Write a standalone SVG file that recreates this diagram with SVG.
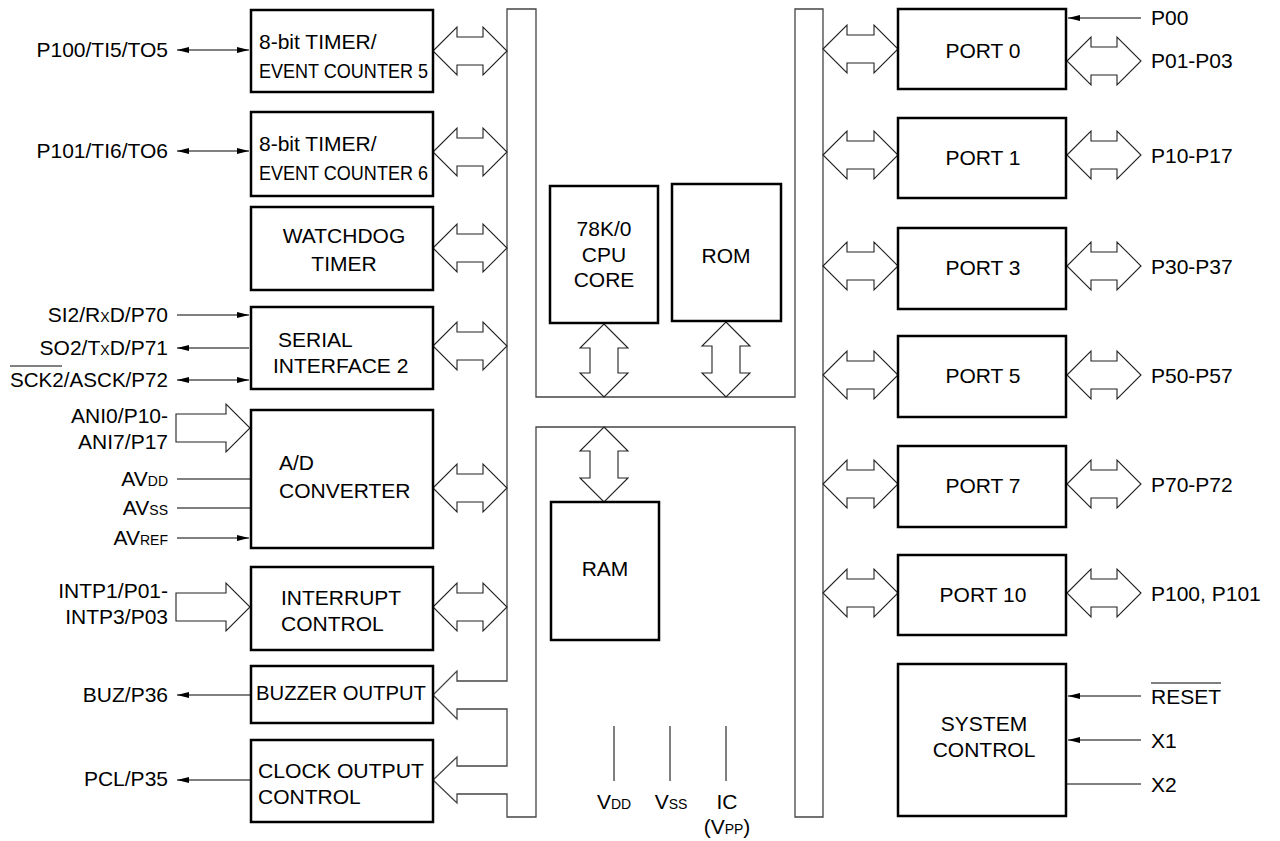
<svg xmlns="http://www.w3.org/2000/svg" width="1280" height="841" viewBox="0 0 1280 841">
<style>
text{font-family:"Liberation Sans",Arial,Helvetica,sans-serif;font-size:21px;fill:#000}
.box{fill:#fff;stroke:#000;stroke-width:2.5}
.bus{fill:none;stroke:#444;stroke-width:1.3}
.da{fill:#fff;stroke:#222;stroke-width:1.1}
.sig{stroke:#000;stroke-width:1;fill:none}
.sm{font-size:14px}
.mid{text-anchor:middle}
.end{text-anchor:end}
</style>
<defs>
<marker id="ah" viewBox="0 0 12 6" refX="12" refY="3" markerWidth="12" markerHeight="6" orient="auto-start-reverse" markerUnits="userSpaceOnUse"><path d="M0,0 L12,3 L0,6 z" fill="#000"/></marker>
</defs>

<g id="connectors">
<path class="bus" d="M507,9 L536,9 L536,397 L795,397 L795,9 L823,9 L823,817 L795,817 L795,427 L536,427 L536,817 L507,817 L507,794 L457,794 L457,803 L433,780 L457,757 L457,766 L507,766 L507,709 L457,709 L457,719 L433,695 L457,671 L457,681 L507,681 Z"/>
<polygon class="da" points="433,51 457,27 457,37 483,37 483,27 507,51 483,75 483,65 457,65 457,75"/>
<polygon class="da" points="433,152 457,128 457,138 483,138 483,128 507,152 483,176 483,166 457,166 457,176"/>
<polygon class="da" points="433,248 457,224 457,234 483,234 483,224 507,248 483,272 483,262 457,262 457,272"/>
<polygon class="da" points="433,346 457,322 457,332 483,332 483,322 507,346 483,370 483,360 457,360 457,370"/>
<polygon class="da" points="433,488 457,464 457,474 483,474 483,464 507,488 483,512 483,502 457,502 457,512"/>
<polygon class="da" points="433,607 457,583 457,593 483,593 483,583 507,607 483,631 483,621 457,621 457,631"/>
<polygon class="da" points="823,49 847,25 847,35 874,35 874,25 898,49 874,73 874,63 847,63 847,73"/>
<polygon class="da" points="823,155 847,131 847,141 874,141 874,131 898,155 874,179 874,169 847,169 847,179"/>
<polygon class="da" points="823,266 847,242 847,252 874,252 874,242 898,266 874,290 874,280 847,280 847,290"/>
<polygon class="da" points="823,375 847,351 847,361 874,361 874,351 898,375 874,399 874,389 847,389 847,399"/>
<polygon class="da" points="823,484 847,460 847,470 874,470 874,460 898,484 874,508 874,498 847,498 847,508"/>
<polygon class="da" points="823,593 847,569 847,579 874,579 874,569 898,593 874,617 874,607 847,607 847,617"/>
<polygon class="da" points="1067,61 1091,37 1091,47 1117,47 1117,37 1141,61 1117,85 1117,75 1091,75 1091,85"/>
<polygon class="da" points="1067,155 1091,131 1091,141 1117,141 1117,131 1141,155 1117,179 1117,169 1091,169 1091,179"/>
<polygon class="da" points="1067,266 1091,242 1091,252 1117,252 1117,242 1141,266 1117,290 1117,280 1091,280 1091,290"/>
<polygon class="da" points="1067,375 1091,351 1091,361 1117,361 1117,351 1141,375 1117,399 1117,389 1091,389 1091,399"/>
<polygon class="da" points="1067,484 1091,460 1091,470 1117,470 1117,460 1141,484 1117,508 1117,498 1091,498 1091,508"/>
<polygon class="da" points="1067,593 1091,569 1091,579 1117,579 1117,569 1141,593 1117,617 1117,607 1091,607 1091,617"/>
<polygon class="da" points="604,324 628,348 618,348 618,373 628,373 604,397 580,373 590,373 590,348 580,348"/>
<polygon class="da" points="726,322 750,346 740,346 740,373 750,373 726,397 702,373 712,373 712,346 702,346"/>
<polygon class="da" points="604,427 628,451 618,451 618,478 628,478 604,502 580,478 590,478 590,451 580,451"/>
<polygon class="da" points="176,414 226,414 226,404 250,428 226,452 226,442 176,442"/>
<polygon class="da" points="176,593 226,593 226,583 250,607 226,631 226,621 176,621"/>
<line class="sig" x1="177" y1="50" x2="249" y2="50" marker-start="url(#ah)" marker-end="url(#ah)"/>
<line class="sig" x1="177" y1="151" x2="249" y2="151" marker-start="url(#ah)" marker-end="url(#ah)"/>
<line class="sig" x1="177" y1="315" x2="249" y2="315" marker-end="url(#ah)"/>
<line class="sig" x1="249" y1="348" x2="177" y2="348" marker-end="url(#ah)"/>
<line class="sig" x1="177" y1="380" x2="249" y2="380" marker-start="url(#ah)" marker-end="url(#ah)"/>
<line class="sig" x1="177" y1="479" x2="250" y2="479"/>
<line class="sig" x1="177" y1="508" x2="250" y2="508"/>
<line class="sig" x1="177" y1="538" x2="249" y2="538" marker-end="url(#ah)"/>
<line class="sig" x1="250" y1="695" x2="177" y2="695" marker-end="url(#ah)"/>
<line class="sig" x1="250" y1="780" x2="177" y2="780" marker-end="url(#ah)"/>
<line class="sig" x1="1141" y1="18" x2="1068" y2="18" marker-end="url(#ah)"/>
<line class="sig" x1="1141" y1="696" x2="1068" y2="696" marker-end="url(#ah)"/>
<line class="sig" x1="1141" y1="740" x2="1068" y2="740" marker-end="url(#ah)"/>
<line class="sig" x1="1067" y1="784" x2="1141" y2="784"/>
<line class="sig" x1="614" y1="726" x2="614" y2="781"/>
<line class="sig" x1="670" y1="726" x2="670" y2="781"/>
<line class="sig" x1="726" y1="726" x2="726" y2="781"/>
</g>

<g id="timer5"><rect class="box" x="251" y="10" width="182" height="82"/>
<text x="259" y="49">8-bit TIMER/</text>
<text x="259" y="78" textLength="169" lengthAdjust="spacingAndGlyphs">EVENT COUNTER 5</text></g>
<g id="timer6"><rect class="box" x="251" y="112" width="182" height="84"/>
<text x="259" y="151">8-bit TIMER/</text>
<text x="259" y="180" textLength="169" lengthAdjust="spacingAndGlyphs">EVENT COUNTER 6</text></g>
<g id="watchdog"><rect class="box" x="251" y="207" width="182" height="83"/>
<text x="344" y="243" class="mid">WATCHDOG</text>
<text x="344" y="271" class="mid">TIMER</text></g>
<g id="serial"><rect class="box" x="251" y="307" width="182" height="82"/>
<text x="278" y="347">SERIAL</text>
<text x="273" y="373">INTERFACE 2</text></g>
<g id="adc"><rect class="box" x="251" y="410" width="182" height="138"/>
<text x="279" y="470">A/D</text>
<text x="279" y="498">CONVERTER</text></g>
<g id="interrupt"><rect class="box" x="251" y="567" width="182" height="83"/>
<text x="281" y="605">INTERRUPT</text>
<text x="281" y="631">CONTROL</text></g>
<g id="buzzer"><rect class="box" x="251" y="666" width="182" height="57"/>
<text x="256" y="700" textLength="170" lengthAdjust="spacingAndGlyphs">BUZZER OUTPUT</text></g>
<g id="clock"><rect class="box" x="251" y="740" width="182" height="82"/>
<text x="258" y="778" textLength="166" lengthAdjust="spacingAndGlyphs">CLOCK OUTPUT</text>
<text x="258" y="804">CONTROL</text></g>

<g id="cpu"><rect class="box" x="550" y="186" width="108" height="137"/>
<text x="604" y="236" class="mid">78K/0</text>
<text x="604" y="262" class="mid">CPU</text>
<text x="604" y="287" class="mid">CORE</text></g>
<g id="rom"><rect class="box" x="672" y="184" width="109" height="137"/>
<text x="726" y="263" class="mid">ROM</text></g>
<g id="ram"><rect class="box" x="551" y="502" width="108" height="138"/>
<text x="605" y="576" class="mid">RAM</text></g>

<g id="port0"><rect class="box" x="898" y="9" width="168" height="80"/><text x="983" y="58" class="mid">PORT 0</text></g>
<g id="port1"><rect class="box" x="898" y="118" width="168" height="80"/><text x="983" y="165" class="mid">PORT 1</text></g>
<g id="port3"><rect class="box" x="898" y="228" width="168" height="81"/><text x="983" y="275" class="mid">PORT 3</text></g>
<g id="port5"><rect class="box" x="898" y="336" width="168" height="81"/><text x="983" y="383" class="mid">PORT 5</text></g>
<g id="port7"><rect class="box" x="898" y="446" width="168" height="81"/><text x="983" y="493" class="mid">PORT 7</text></g>
<g id="port10"><rect class="box" x="898" y="555" width="168" height="80"/><text x="983" y="602" class="mid">PORT 10</text></g>
<g id="system"><rect class="box" x="898" y="664" width="168" height="152"/>
<text x="984" y="731" class="mid">SYSTEM</text>
<text x="984" y="757" class="mid">CONTROL</text></g>

<g id="labels">
<text x="168" y="57" class="end">P100/TI5/TO5</text>
<text x="168" y="158" class="end">P101/TI6/TO6</text>
<text x="168" y="322" class="end">SI2/R<tspan class="sm">X</tspan>D/P70</text>
<text x="168" y="355" class="end">SO2/T<tspan class="sm">X</tspan>D/P71</text>
<text x="10" y="387" textLength="158" lengthAdjust="spacingAndGlyphs">SCK2/ASCK/P72</text>
<line x1="10" y1="366" x2="62" y2="366" stroke="#000" stroke-width="1"/>
<text x="168" y="423" class="end">ANI0/P10-</text>
<text x="168" y="449" class="end">ANI7/P17</text>
<text x="168" y="486" class="end">AV<tspan class="sm">DD</tspan></text>
<text x="168" y="515" class="end">AV<tspan class="sm">SS</tspan></text>
<text x="168" y="545" class="end">AV<tspan class="sm">REF</tspan></text>
<text x="168" y="598" class="end">INTP1/P01-</text>
<text x="168" y="624" class="end">INTP3/P03</text>
<text x="168" y="702" class="end">BUZ/P36</text>
<text x="168" y="786" class="end">PCL/P35</text>
<text x="614" y="809" class="mid">V<tspan class="sm">DD</tspan></text>
<text x="671" y="809" class="mid">V<tspan class="sm">SS</tspan></text>
<text x="727" y="809" class="mid">IC</text>
<text x="727" y="834" class="mid">(V<tspan class="sm">PP</tspan>)</text>
<text x="1151" y="25">P00</text>
<text x="1151" y="68">P01-P03</text>
<text x="1151" y="163">P10-P17</text>
<text x="1151" y="274">P30-P37</text>
<text x="1151" y="383">P50-P57</text>
<text x="1151" y="492">P70-P72</text>
<text x="1151" y="601">P100, P101</text>
<text x="1151" y="704">RESET</text>
<line x1="1151" y1="683" x2="1221" y2="683" stroke="#000" stroke-width="1"/>
<text x="1151" y="748">X1</text>
<text x="1151" y="792">X2</text>
</g>
</svg>
